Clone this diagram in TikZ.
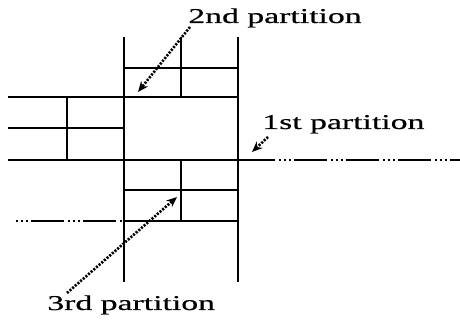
\documentclass[tikz,border=0pt]{standalone}
\usepackage{fontspec}
\newfontfamily\partfont[FakeStretch=1.6,FakeBold=0.6]{Liberation Serif}
\usetikzlibrary{positioning, arrows.meta}
\tikzset{
  wall/.style={line width=1.2pt},
  cut/.style={line width=0.9pt,
    dash pattern=on 0.66cm off 0.08cm on 0.04cm off 0.06cm on 0.04cm off 0.06cm on 0.04cm off 0.06cm,
    dash phase=0.66cm},
  pointer/.style={line width=1.5pt, dash pattern=on 1.2pt off 0.8pt, -{Stealth[length=6pt,width=5pt]}},
  partlabel/.style={inner sep=0pt, anchor=base west, font=\partfont\fontsize{12}{14}\selectfont}
}
\begin{document}
\begin{tikzpicture}[x=0.02cm,y=-0.02cm,>=Stealth]
  \useasboundingbox (0,0) rectangle (460,320);
  % outer uprights
  \draw[wall](124,37)--(124,282);
  \draw[wall](238,37)--(238,282);
  % upper block
  \draw[wall](181,37)--(181,97);
  \draw[wall](124,68)--(238,68);
  \draw[wall](8,97)--(238,97);
  % left block
  \draw[wall](8,128)--(124,128);
  \draw[wall](67,97)--(67,160);
  \draw[wall](8,160)--(275,160);
  % lower block
  \draw[wall](181,160)--(181,221);
  \draw[wall](124,190)--(238,190);
  \draw[wall](124,221)--(238,221);
  % cut lines
  \draw[cut](275,160)--(460,160);
  \draw[cut](12,221)--(124,221);
  % labels
  \node[partlabel] (second) at (188,23) {2nd partition};
  \node[partlabel] (first) at (262,129) {1st partition};
  \node[partlabel] (third) at (47,310) {3rd partition};
  \coordinate (secondtip) at (138,92);
  \coordinate (firsttip) at (252,152);
  \coordinate (thirdtip) at (177,197);
  \draw[pointer](190,27)--(secondtip);
  \draw[pointer](268,137)--(firsttip);
  \draw[pointer](67,293)--(thirdtip);
\end{tikzpicture}
\end{document}
